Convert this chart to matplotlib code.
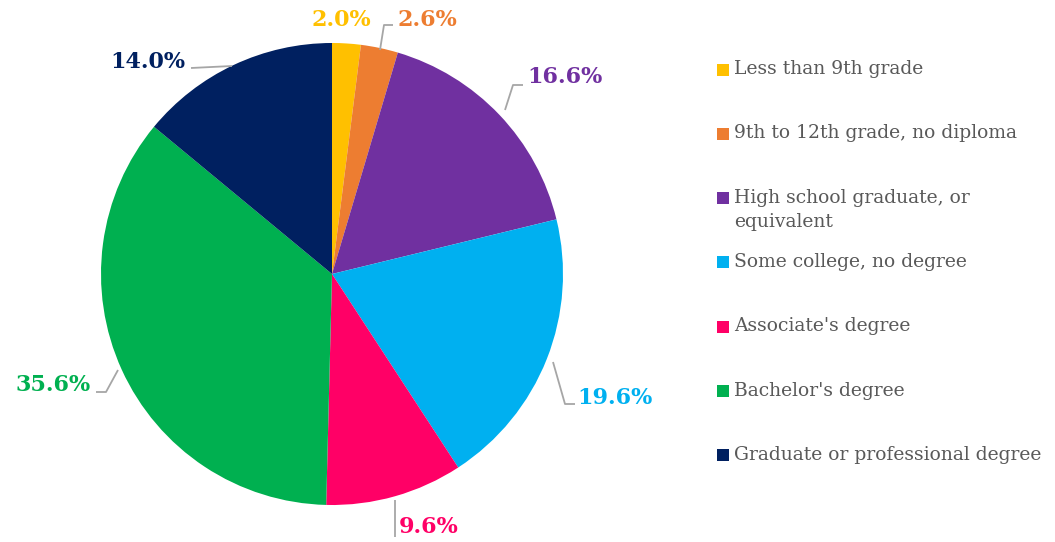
import numpy as np
import matplotlib
matplotlib.use("Agg")
import matplotlib.pyplot as plt
from matplotlib.patches import Rectangle

# data
categories = [
    "Less than 9th grade",
    "9th to 12th grade, no diploma",
    "High school graduate, or\nequivalent",
    "Some college, no degree",
    "Associate's degree",
    "Bachelor's degree",
    "Graduate or professional degree",
]
shares = [2.0, 2.6, 16.6, 19.6, 9.6, 35.6, 14.0]
colors = ["#FFC000", "#ED7D31", "#7030A0", "#00B0F0", "#FF0066", "#00B050", "#002060"]

W, H = 1055, 542
plt.rcParams["font.family"] = ["DejaVu Serif"]

fig = plt.figure(figsize=(W / 100, H / 100), dpi=100)
ax = fig.add_axes([0, 0, 1, 1])

# pie in pixel coords (y axis inverted -> counterclock=True draws clockwise on screen)
cx, cy, r = 332, 274, 231
wedges, _ = ax.pie(shares, colors=colors, startangle=-90, counterclock=True,
                   center=(cx, cy), radius=r, frame=True,
                   wedgeprops=dict(linewidth=0))
ax.set_xlim(0, W)
ax.set_ylim(H, 0)
ax.set_aspect("equal")
ax.axis("off")

# label text positions (pixels) and leader line paths
label_pos = [(341, 20), (427, 20), (565, 77), (615, 398), (429, 527), (53, 385), (148, 62)]
leaders = [
    None,
    [(380, 50), (384, 25), (393, 25)],
    [(505, 110), (513, 85), (523, 85)],
    [(553, 362), (565, 404), (575, 404)],
    [(395, 500), (395, 537)],
    [(96, 392), (106, 392), (118, 370)],
    [(191, 68), (232, 66)],
]
for val, col, (lx, ly), path in zip(shares, colors, label_pos, leaders):
    ax.text(lx, ly, f"{val:.1f}%", color=col, fontsize=16, fontweight="bold",
            ha="center", va="center")
    if path is not None:
        xs, ys = zip(*path)
        ax.plot(xs, ys, color="#A6A6A6", lw=1.3, solid_capstyle="butt")

# legend (manual)
ly0, step = 70, 64.3
for i, (lab, col) in enumerate(zip(categories, colors)):
    y = ly0 + i * step
    ax.add_patch(Rectangle((717, y - 6.5), 12, 12, color=col, lw=0))
    ax.text(734, y - 10, lab, color="#595959", fontsize=13.5, ha="left", va="top",
            linespacing=1.45)

fig.savefig("out.png", dpi=100)
